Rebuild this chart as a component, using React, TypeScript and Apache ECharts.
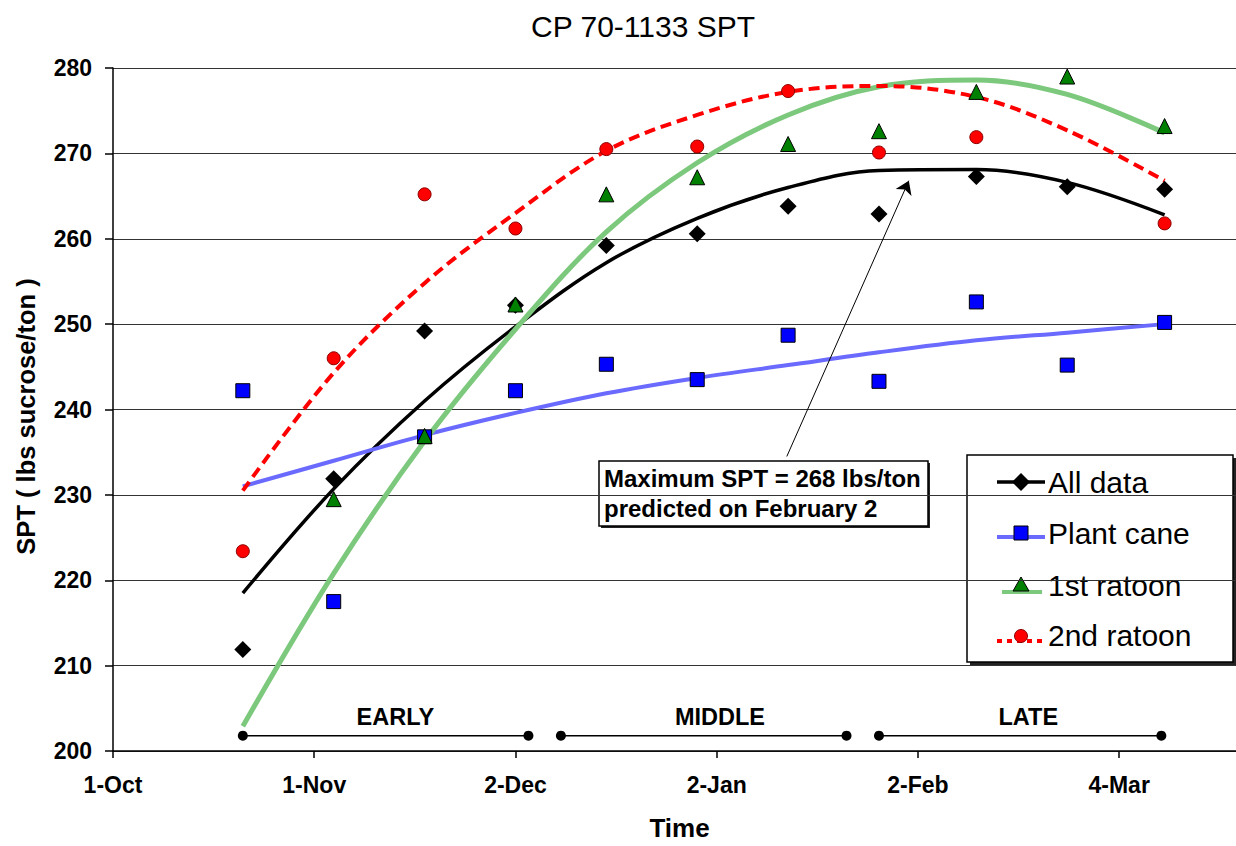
import React, { useEffect, useRef } from "react";
import * as echarts from "echarts";

// ---- axis ticks (days after 1-Oct) ----
const tickDays = [0, 31, 62, 93, 124, 155];
const tickLabels = ["1-Oct", "1-Nov", "2-Dec", "2-Jan", "2-Feb", "4-Mar"];

// ---- sampling dates (days after 1-Oct) ----
const sampleDays = [20, 34, 48, 62, 76, 90, 104, 118, 133, 147, 162];

// ---- observed SPT values ----
const allData = [211.9, 231.9, 249.2, 252.2, 259.2, 260.6, 263.8, 262.9, 267.3, 266.1, 265.8];
const plantCane = [242.2, 217.5, 236.8, 242.2, 245.3, 243.5, 248.7, 243.3, 252.6, 245.2, 250.2];
const ratoon1 = [null, 229.5, 236.9, 252.3, 265.2, 267.2, 271.1, 272.6, 277.2, 279.0, 273.2];
const ratoon2 = [223.4, 246.0, 265.2, 261.2, 270.5, 270.8, 277.3, 270.1, 271.9, null, 261.8];

// ---- trend lines at the sampling dates ----
const allTrend = [218.5, 230.7, 241.0, 249.7, 257.2, 262.4, 266.0, 268.0, 268.1, 266.6, 262.8];
const plantTrend = [231.0, 234.0, 237.0, 239.6, 241.9, 243.7, 245.2, 246.7, 248.1, 249.0, 250.0];
const ratoon1Trend = [202.9, 220.8, 236.3, 249.4, 260.8, 268.9, 274.5, 277.8, 278.6, 276.9, 272.4];
const ratoon2Trend = [230.5, 244.3, 254.8, 263.0, 270.3, 274.5, 277.2, 277.9, 276.6, 272.7, 266.8];

const seriesNames = ["All data", "Plant cane", "1st ratoon", "2nd ratoon"];

// ---- harvest phases ----
const phaseNames = ["EARLY", "MIDDLE", "LATE"];
const phaseStart = [20, 69, 118];
const phaseEnd = [64, 113, 161.5];
const phaseLabelDay = [43.5, 93.5, 141];
const phaseLineValue = 201.8;
const phaseLabelValue = 204.0;

// ---- annotation ----
const arrowFrom = [103.8, 234.5];
const arrowTo = [122.6, 266.8];
const annotationLines = ["Maximum SPT = 268 lbs/ton", "predicted on February 2"];

const FONT = '"Liberation Sans", Arial, Helvetica, sans-serif';

const pts = (vals: (number | null)[]) =>
  sampleDays
    .map((d, i) => (vals[i] == null ? null : [d, vals[i] as number]))
    .filter((p) => p !== null) as number[][];

function buildOption(): any {
  const trendSeries = [
    {
      name: seriesNames[0] + " trend",
      data: pts(allTrend),
      lineStyle: { color: "#000000", width: 3.5, type: "solid" },
      markLine: {
        silent: true,
        symbol: ["none", "arrow"],
        symbolSize: 13,
        label: { show: false },
        lineStyle: { color: "#000", width: 1, type: "solid" },
        emphasis: { disabled: true },
        data: [[{ coord: arrowFrom }, { coord: arrowTo }]],
      },
    },
    {
      name: seriesNames[1] + " trend",
      data: pts(plantTrend),
      lineStyle: { color: "#6a6aff", width: 4, type: "solid" },
    },
    {
      name: seriesNames[2] + " trend",
      data: pts(ratoon1Trend),
      lineStyle: { color: "#7cc87c", width: 5, type: "solid" },
    },
    {
      name: seriesNames[3] + " trend",
      data: pts(ratoon2Trend),
      lineStyle: { color: "#ff0000", width: 4, type: [11, 6] },
    },
  ].map((s) => ({
    ...s,
    type: "line",
    smooth: 0.35,
    showSymbol: false,
    symbol: "none",
    silent: true,
    z: 2,
  }));

  const markerSeries = [
    {
      name: seriesNames[0],
      data: pts(allData),
      symbol: "diamond",
      symbolSize: 17,
      itemStyle: { color: "#000000", opacity: 1 },
    },
    {
      name: seriesNames[1],
      data: pts(plantCane),
      symbol: "rect",
      symbolSize: 14,
      itemStyle: { color: "#0000ff", borderColor: "#000", borderWidth: 1, opacity: 1 },
    },
    {
      name: seriesNames[2],
      data: pts(ratoon1),
      symbol: "triangle",
      symbolSize: 15,
      itemStyle: { color: "#008000", borderColor: "#000", borderWidth: 1, opacity: 1 },
    },
    {
      name: seriesNames[3],
      data: pts(ratoon2),
      symbol: "circle",
      symbolSize: 13,
      itemStyle: { color: "#ff0000", borderColor: "#8a0000", borderWidth: 1, opacity: 1 },
    },
  ].map((s) => ({ ...s, type: "scatter", silent: true, z: 3 }));

  const phaseSeries = phaseNames.map((n, i) => ({
    name: n,
    type: "line",
    silent: true,
    symbol: "circle",
    symbolSize: 10,
    showSymbol: true,
    itemStyle: { color: "#000", opacity: 1 },
    lineStyle: { color: "#000", width: 1.5 },
    data: [
      [phaseStart[i], phaseLineValue],
      [phaseEnd[i], phaseLineValue],
    ],
    z: 3,
  }));

  const phaseLabels = {
    name: "phases",
    type: "scatter",
    silent: true,
    symbolSize: 0,
    itemStyle: { color: "#000", opacity: 1 },
    data: phaseNames.map((n, i) => ({ name: n, value: [phaseLabelDay[i], phaseLabelValue] })),
    label: {
      show: true,
      position: "inside",
      formatter: "{b}",
      fontFamily: FONT,
      fontSize: 23.5,
      fontWeight: "bold",
      color: "#000",
      textBorderWidth: 0,
      textBorderColor: "transparent",
      opacity: 1,
    },
    z: 3,
  };

  // legend drawn with graphic elements (Excel-style line + marker swatches)
  const lgX = 967, lgY = 455, lgW = 266, lgH = 207;
  const rowY = [482, 533, 585, 635];
  const legendText = (i: number) => ({
    type: "text",
    x: 1048,
    y: rowY[i],
    style: {
      text: seriesNames[i],
      fontFamily: FONT,
      fontSize: 30,
      fill: "#000",
      verticalAlign: "middle",
      align: "left",
    },
  });
  const legend = {
    type: "group",
    z: 100,
    children: [
      { type: "rect", shape: { x: lgX + 3, y: lgY + 3, width: lgW, height: lgH }, style: { fill: "#222" } },
      { type: "rect", shape: { x: lgX, y: lgY, width: lgW, height: lgH }, style: { fill: "#fff", stroke: "#000", lineWidth: 1.5 } },
      // All data
      { type: "line", shape: { x1: 997, y1: 482, x2: 1045, y2: 482 }, style: { stroke: "#000", lineWidth: 3.5 } },
      { type: "polygon", shape: { points: [[1021, 473], [1030, 482], [1021, 491], [1012, 482]] }, style: { fill: "#000" } },
      legendText(0),
      // Plant cane
      { type: "line", shape: { x1: 997, y1: 537, x2: 1045, y2: 537 }, style: { stroke: "#6a6aff", lineWidth: 4 } },
      { type: "rect", shape: { x: 1014, y: 526, width: 14, height: 14 }, style: { fill: "#0000ff", stroke: "#000", lineWidth: 1 } },
      legendText(1),
      // 1st ratoon
      { type: "line", shape: { x1: 1002, y1: 592, x2: 1042, y2: 592 }, style: { stroke: "#7cc87c", lineWidth: 4 } },
      { type: "polygon", shape: { points: [[1021, 577], [1029, 591], [1013, 591]] }, style: { fill: "#008000", stroke: "#000", lineWidth: 1 } },
      legendText(2),
      // 2nd ratoon
      { type: "line", shape: { x1: 997, y1: 641, x2: 1042, y2: 641 }, style: { stroke: "#ff0000", lineWidth: 4, lineDash: [5, 5] } },
      { type: "circle", shape: { cx: 1021, cy: 636, r: 6.5 }, style: { fill: "#ff0000", stroke: "#8a0000", lineWidth: 1 } },
      legendText(3),
    ],
  };

  const annX = 599, annY = 461, annW = 329, annH = 65;
  const annotation = {
    type: "group",
    z: 100,
    children: [
      { type: "rect", shape: { x: annX + 2, y: annY + 2, width: annW, height: annH }, style: { fill: "#222" } },
      { type: "rect", shape: { x: annX, y: annY, width: annW, height: annH }, style: { fill: "#fff", stroke: "#000", lineWidth: 1.5 } },
      ...annotationLines.map((t, i) => ({
        type: "text",
        x: annX + 5,
        y: annY + 17 + i * 30,
        style: {
          text: t,
          fontFamily: FONT,
          fontSize: 24,
          fontWeight: "bold",
          fill: "#000",
          verticalAlign: "middle",
          align: "left",
        },
      })),
    ],
  };

  return {
    animation: false,
    backgroundColor: "#ffffff",
    textStyle: { fontFamily: FONT },
    title: {
      text: "CP 70-1133 SPT",
      left: 526,
      top: 6,
      textStyle: { fontFamily: FONT, fontSize: 30, fontWeight: "normal", color: "#000" },
    },
    grid: { left: 113, right: 0, top: 68, bottom: 87, containLabel: false },
    xAxis: {
      type: "value",
      min: 0,
      max: 173,
      name: "Time",
      nameLocation: "middle",
      nameGap: 64,
      nameTextStyle: { fontFamily: FONT, fontSize: 26, fontWeight: "bold", color: "#000", padding: [0, 0, 0, 10] },
      axisLine: { show: true, onZero: false, lineStyle: { color: "#000", width: 1.5 } },
      axisTick: { show: true, length: 7, customValues: tickDays, lineStyle: { color: "#000", width: 1.5 } },
      axisLabel: {
        customValues: tickDays,
        formatter: (v: number) => {
          const i = tickDays.indexOf(Math.round(v));
          return i >= 0 ? tickLabels[i] : "";
        },
        margin: 22,
        fontFamily: FONT,
        fontSize: 23,
        fontWeight: "bold",
        color: "#000",
      },
      splitLine: { show: false },
    },
    yAxis: {
      type: "value",
      min: 200,
      max: 280,
      interval: 10,
      name: "SPT ( lbs sucrose/ton )",
      nameLocation: "middle",
      nameGap: 74,
      nameTextStyle: { fontFamily: FONT, fontSize: 25.5, fontWeight: "bold", color: "#000", padding: [0, 14, 0, 0] },
      axisLine: { show: true, lineStyle: { color: "#000", width: 1.5 } },
      axisTick: { show: true, length: 8, lineStyle: { color: "#000", width: 1.5 } },
      axisLabel: { margin: 21, fontFamily: FONT, fontSize: 23, fontWeight: "bold", color: "#000" },
      splitLine: { show: true, lineStyle: { color: "#333", width: 1.2 } },
    },
    series: [...trendSeries, ...markerSeries, ...phaseSeries, phaseLabels],
    graphic: [annotation, legend],
  };
}

export default function App() {
  const ref = useRef<HTMLDivElement>(null);
  useEffect(() => {
    if (!ref.current) return;
    const chart = echarts.init(ref.current, null, { renderer: "svg" });
    chart.setOption(buildOption());
    return () => chart.dispose();
  }, []);
  return (
    <div
      ref={ref}
      style={{ position: "absolute", left: 0, top: 0, width: 1236, height: 846, background: "#fff" }}
    />
  );
}
